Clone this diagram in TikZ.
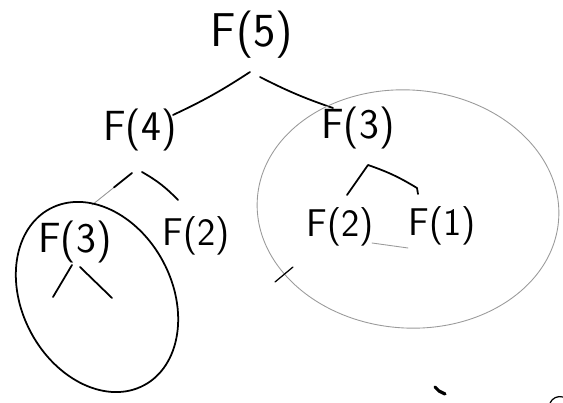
\documentclass[tikz,border=0pt]{standalone}
\usepackage{tikz}
\usetikzlibrary{calc}

\begin{document}
\begin{tikzpicture}[
  font=\sffamily,
  callnode/.style={inner sep=0pt, font=\sffamily\fontsize{24}{26}\selectfont},
  branch/.style={black, line width=1.0pt, line cap=round, line join=round},
  pencil/.style={cPencil, line width=0.5pt, line cap=round},
]
\definecolor{cPencil}{HTML}{9A9A9A}   % faint pencil strokes

\useasboundingbox (0,0) rectangle (11.26,8.06);

% ---------- call nodes ----------
\node[callnode, font=\sffamily\fontsize{27}{29}\selectfont] (fFive) at (5.04,7.36) {F(5)};
\node[callnode] (fFour)  at (2.80,5.46) {F(4)};
\node[callnode] (fThreeR) at (7.16,5.50) {F(3)};
\node[callnode] (fThreeL) at (1.50,3.22) {F(3)};
\node[callnode, font=\sffamily\fontsize{22}{24}\selectfont] (fTwoL) at (3.92,3.34) {F(2)};
\node[callnode, font=\sffamily\fontsize{22}{24}\selectfont] (fTwoR) at (6.80,3.52) {F(2)};
\node[callnode, font=\sffamily\fontsize{22}{24}\selectfont] (fOne)  at (8.84,3.54) {F(1)};

% ---------- F(5) -> F(4), F(3) ----------
\draw[branch] ($(fFive)+(-0.04,-0.74)$) to[bend left=4] ($(fFour)+(0.66,0.30)$);
\draw[branch] ($(fFive)+(0.16,-0.84)$) to[bend right=4] ($(fThreeR)+(-0.50,0.40)$);

% ---------- F(4) -> F(3), F(2) ----------
\coordinate (fourA) at ($(fFour)+(-0.16,-0.86)$);
\coordinate (fourB) at ($(fThreeL)+(0.34,0.74)$);
\draw[pencil] (fourA) -- (fourB);
\draw[branch] (fourA) -- ($(fourA)!0.45!(fourB)$);
\draw[branch] ($(fFour)+(0.04,-0.84)$) to[bend left=8] ($(fTwoL)+(-0.36,0.72)$);

% ---------- F(3) -> F(2), F(1) ----------
\coordinate (peak) at ($(fThreeR)+(0.20,-0.74)$);
\draw[branch] ($(fTwoR)+(0.14,0.64)$) -- (peak)
  to[bend left=6] ($(fOne)+(-0.50,0.76)$) -- ++(0.02,-0.12);

% ---------- left F(3) children (not expanded) ----------
\coordinate (leftA) at ($(fThreeL)+(-0.44,-1.10)$);
\coordinate (leftB) at ($(fThreeL)+(-0.06,-0.46)$);
\coordinate (leftC) at ($(fThreeL)+(0.10,-0.50)$);
\coordinate (leftD) at ($(fThreeL)+(0.74,-1.12)$);
\draw[branch] (leftA) -- (leftB);
\draw[branch] (leftC) -- (leftD);

% ---------- circled subtrees ----------
\draw[branch] (1.94,2.12) ellipse [x radius=1.50, y radius=2.00, rotate=28];
\draw[pencil] (8.16,3.88) ellipse [x radius=3.02, y radius=2.38, rotate=-4];
\draw[branch, line width=0.7pt] (5.50,2.42) -- (5.86,2.72);
\draw[pencil] ($(fTwoR)+(0.64,-0.32)$) -- ($(fTwoR)+(1.36,-0.42)$);

% ---------- stray marks ----------
\draw[branch, line width=1.8pt] (8.70,0.32) -- (8.78,0.24) -- (8.90,0.18);
\draw[branch, line width=0.7pt] (11.00,0.00) to[bend left=40] (11.26,0.12);

\end{tikzpicture}
\end{document}
